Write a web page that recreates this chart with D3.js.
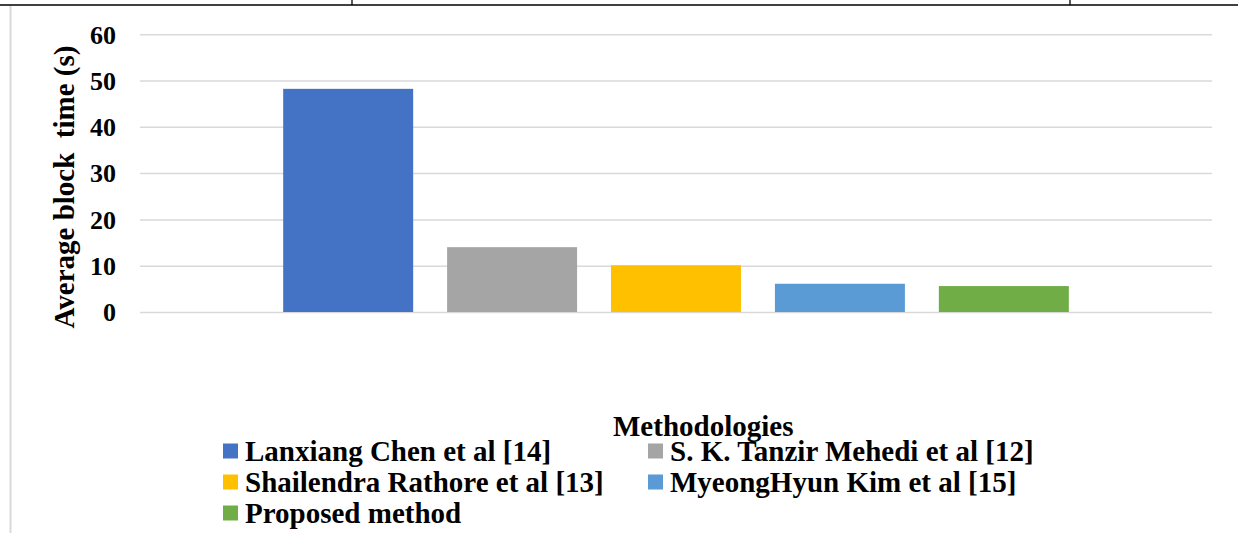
<!DOCTYPE html>
<html>
<head>
<meta charset="utf-8">
<script src="https://cdn.jsdelivr.net/npm/d3@7/dist/d3.min.js"></script>
<style>
  html, body { margin: 0; padding: 0; background: #fff; }
  svg text { font-family: "Liberation Serif", "Times New Roman", serif; font-weight: bold; fill: #000; }
</style>
</head>
<body>
<svg id="chart" width="1238" height="533"></svg>
<script>
const categories = ["Methodologies"];
const seriesNames = [
  "Lanxiang Chen et al [14]",
  "S. K. Tanzir Mehedi et al [12]",
  "Shailendra Rathore et al [13]",
  "MyeongHyun Kim et al [15]",
  "Proposed method"
];
const seriesValues = [48.2, 14, 10.1, 6.1, 5.6];
const seriesColors = ["#4472C4", "#A5A5A5", "#FFC000", "#5B9BD5", "#70AD47"];
const yTicks = [0, 10, 20, 30, 40, 50, 60];
const yTitle = "Average block  time (s)";

const svg = d3.select("#chart");
const W = 1238, H = 533;
svg.append("rect").attr("width", W).attr("height", H).attr("fill", "#fff");

// page fragments: table border at top and chart frame on left
svg.append("line").attr("x1", 0).attr("x2", W).attr("y1", 5).attr("y2", 5)
  .attr("stroke", "#000").attr("stroke-width", 1.6);
[352, 1070].forEach(x => svg.append("line").attr("x1", x).attr("x2", x)
  .attr("y1", 0).attr("y2", 5).attr("stroke", "#000").attr("stroke-width", 1.3));
svg.append("line").attr("x1", 10.5).attr("x2", 10.5).attr("y1", 6).attr("y2", H)
  .attr("stroke", "#d9d9d9").attr("stroke-width", 2);

const plot = { left: 140, right: 1212, top: 34.2, bottom: 312 };

const y = d3.scaleLinear().domain([0, 60]).range([plot.bottom, plot.top]);
const x0 = d3.scaleBand().domain(categories).range([plot.left, plot.right])
  .paddingInner(0).paddingOuter(0.154);
const x1 = d3.scaleBand().domain(seriesNames).range([0, x0.bandwidth()])
  .paddingInner(0.207).paddingOuter(0.1035);

// gridlines
const grid = d3.axisLeft(y).tickValues(yTicks).tickSize(-(plot.right - plot.left)).tickFormat("");
const gG = svg.append("g").attr("transform", `translate(${plot.left},0)`).call(grid);
gG.select(".domain").remove();
gG.selectAll(".tick line").attr("stroke", "#d9d9d9").attr("stroke-width", 1.5);

// y tick labels
const yAxis = d3.axisLeft(y).tickValues(yTicks).tickSize(0).tickPadding(24).tickFormat(d3.format("d"));
const yG = svg.append("g").attr("transform", `translate(${plot.left},0)`).call(yAxis);
yG.select(".domain").remove();
yG.selectAll("text").attr("font-size", 26).attr("font-family", "Liberation Serif")
  .attr("font-weight", "bold").attr("fill", "#000").attr("dy", "0.34em");

// bars
const gBars = svg.append("g");
categories.forEach(cat => {
  gBars.selectAll("rect.bar").data(seriesNames).enter().append("rect")
    .attr("class", "bar")
    .attr("x", (d) => x0(cat) + x1(d))
    .attr("width", x1.bandwidth())
    .attr("y", (d, i) => y(seriesValues[i]))
    .attr("height", (d, i) => y(0) - y(seriesValues[i]))
    .attr("fill", (d, i) => seriesColors[i]);
});

// y title
svg.append("text")
  .attr("transform", `translate(74,187) rotate(-90)`)
  .attr("text-anchor", "middle")
  .attr("font-size", 29)
  .style("white-space", "pre")
  .text(yTitle);

// x axis title
svg.append("text").attr("x", 613).attr("y", 436).attr("font-size", 29).text(categories[0]);

// legend
const legCols = d3.scalePoint().domain([0, 1]).range([223, 648]);
const legRows = d3.scalePoint().domain([0, 1, 2]).range([451, 513]);
const leg = svg.append("g").selectAll("g").data(seriesNames).enter().append("g")
  .attr("transform", (d, i) => `translate(${legCols(i % 2)},${legRows(Math.floor(i / 2))})`);
leg.append("rect").attr("x", 0).attr("y", -7.5).attr("width", 15).attr("height", 15)
  .attr("fill", (d, i) => seriesColors[i]);
leg.append("text").attr("x", 22).attr("y", 10).attr("font-size", 29).text(d => d);
</script>
</body>
</html>
